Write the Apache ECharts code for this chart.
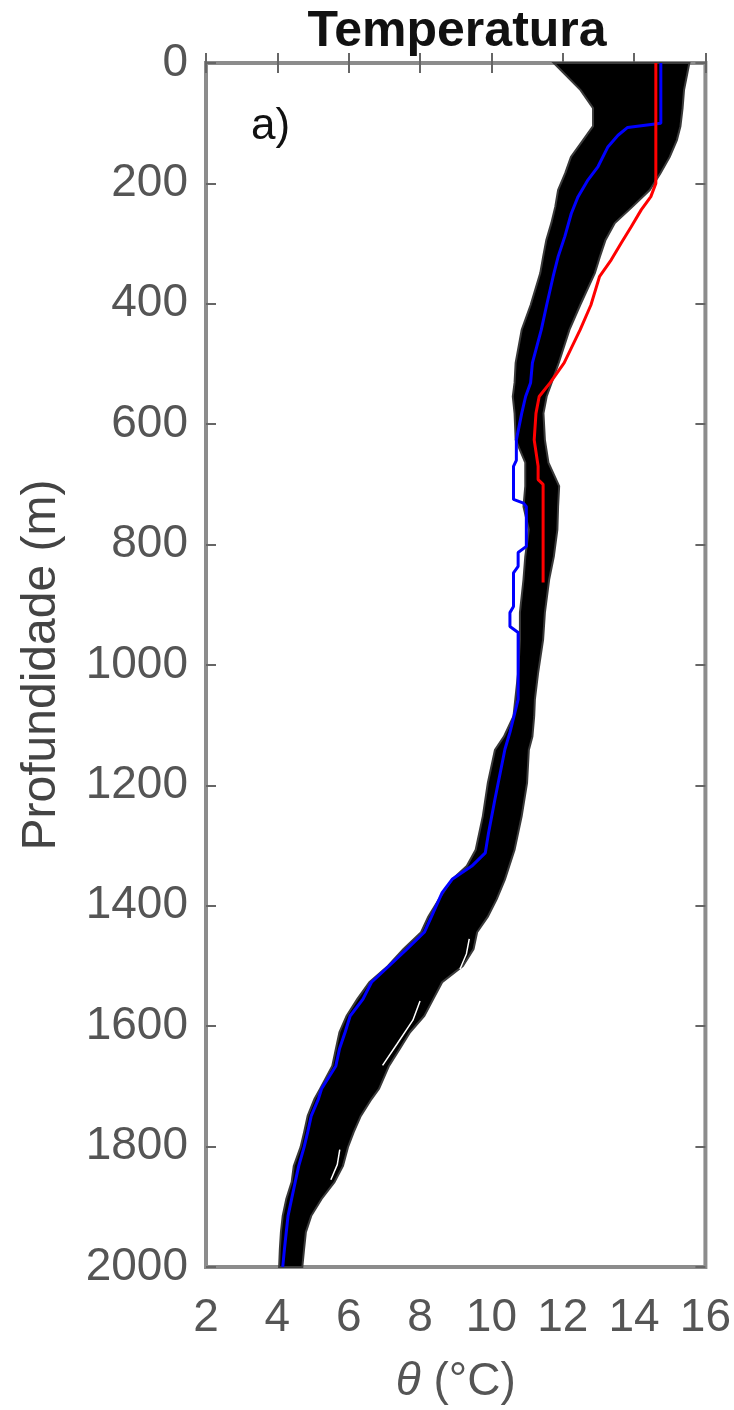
<!DOCTYPE html>
<html>
<head>
<meta charset="utf-8">
<script src="https://cdn.jsdelivr.net/npm/echarts@6/dist/echarts.min.js"></script>
<style>
  html, body { margin: 0; padding: 0; background: #fff; }
  #chartBox { width: 734px; height: 1410px; }
</style>
</head>
<body>
<div id="chartBox"></div>
<script>
// profundidade (m) dos bordos da nuvem de perfis pretos
var bandDepth = [0, 15, 45, 75, 105, 128, 156, 183, 211, 239, 266, 294, 322, 349, 402, 443, 498, 531, 554, 582,
  626, 664, 703, 737, 775, 820, 858, 913, 958, 1013, 1057, 1085, 1119, 1141, 1196, 1251, 1307, 1334, 1356, 1389,
  1418, 1444, 1472, 1500, 1527, 1555, 1583, 1610, 1638, 1666, 1704, 1721, 1749, 1776, 1801, 1832, 1859, 1887,
  1915, 1942, 1970, 2000]
var bandLeft = [11.75, 12.0, 12.5, 12.85, 12.85, 12.57, 12.23, 12.07, 11.87, 11.79, 11.68, 11.54, 11.45, 11.37,
  11.1, 10.85, 10.68, 10.65, 10.6, 10.65, 10.68, 10.95, 10.95, 10.9, 11.05, 10.95, 10.9, 10.8, 10.8, 10.75,
  10.67, 10.62, 10.35, 10.1, 9.9, 9.76, 9.56, 9.31, 8.9, 8.53, 8.23, 8.03, 7.53, 7.1, 6.58, 6.24, 5.94, 5.74,
  5.64, 5.54, 5.2, 5.04, 4.85, 4.75, 4.65, 4.46, 4.4, 4.25, 4.15, 4.1, 4.07, 4.05]
var bandRight = [15.55, 15.5, 15.4, 15.36, 15.3, 15.2, 15.0, 14.74, 14.44, 13.95, 13.46, 13.2, 13.04, 12.9,
  12.49, 12.19, 11.89, 11.69, 11.55, 11.46, 11.5, 11.6, 11.9, 11.87, 11.85, 11.75, 11.62, 11.5, 11.45, 11.31,
  11.22, 11.2, 11.15, 11.05, 11.0, 10.85, 10.65, 10.5, 10.38, 10.15, 9.9, 9.6, 9.5, 9.2, 8.62, 8.37, 8.12,
  7.72, 7.43, 7.13, 6.85, 6.64, 6.34, 6.14, 5.98, 5.84, 5.6, 5.24, 4.95, 4.8, 4.75, 4.7]

// perfil azul
var blueDepth = [0, 100, 107, 120, 139, 172, 194, 222, 250, 288, 322, 355, 402, 443, 498, 531, 554, 582, 626, 660,
  670, 725, 731, 737, 803, 813, 836, 847, 903, 913, 936, 946, 1013, 1057, 1112, 1140, 1223, 1279, 1312, 1334,
  1356, 1378, 1418, 1444, 1472, 1500, 1527, 1555, 1583, 1610, 1638, 1666, 1704, 1721, 1749, 1776, 1801, 1832,
  1859, 1887, 1915, 1942, 1970, 2000]
var blueTemp = [14.75, 14.75, 13.82, 13.55, 13.27, 12.99, 12.71, 12.43, 12.24, 12.06, 11.87, 11.73, 11.55, 11.4,
  11.15, 11.1, 10.96, 10.85, 10.7, 10.7, 10.62, 10.62, 10.9, 10.98, 10.98, 10.75, 10.75, 10.62, 10.62, 10.52,
  10.52, 10.75, 10.75, 10.75, 10.52, 10.38, 10.1, 9.92, 9.83, 9.45, 8.9, 8.62, 8.32, 8.12, 7.63, 7.13, 6.64,
  6.4, 6.04, 5.9, 5.74, 5.64, 5.24, 5.15, 4.95, 4.85, 4.75, 4.6, 4.5, 4.4, 4.3, 4.25, 4.2, 4.15]

// perfil vermelho
var redDepth = [0, 200, 222, 244, 272, 299, 327, 355, 402, 443, 498, 531, 554, 582, 626, 670, 692, 700, 863]
var redTemp = [14.61, 14.61, 14.47, 14.2, 13.92, 13.64, 13.36, 13.03, 12.79, 12.49, 12.04, 11.65, 11.34, 11.25,
  11.2, 11.31, 11.31, 11.45, 11.45]

// buracos brancos dentro da nuvem
var holes = [
  [[9.38, 1455], [9.3, 1480], [9.12, 1505]],
  [[8.0, 1558], [7.8, 1590], [7.35, 1630], [6.95, 1665]],
  [[5.75, 1805], [5.68, 1830], [5.5, 1855]]
]

var xTicks = [2, 16, 2]
var yTicks = [0, 2000, 200]

var font = "'Liberation Sans', Arial, sans-serif"

function pairs (xs, ys) {
  return xs.map(function (x, i) { return [x, ys[i]] })
}

var myChart = echarts.init(document.getElementById('chartBox'))

var tickStyle = { show: true, inside: true, length: 10, lineStyle: { color: '#666', width: 2 } }

var series = [
  {
    type: 'custom',
    z: 1,
    xAxisIndex: 0,
    yAxisIndex: 0,
    data: [[bandLeft[0], bandDepth[0]]],
    renderItem: function (params, api) {
      var pts = []
      for (var i = 0; i < bandDepth.length; i++) pts.push(api.coord([bandLeft[i], bandDepth[i]]))
      for (var j = bandDepth.length - 1; j >= 0; j--) pts.push(api.coord([bandRight[j], bandDepth[j]]))
      return {
        type: 'polygon',
        shape: { points: pts },
        style: { fill: '#000', stroke: '#3a3a3a', lineWidth: 2 }
      }
    }
  }
]
holes.forEach(function (h) {
  series.push({
    type: 'line', z: 2, data: h, showSymbol: false, silent: true,
    lineStyle: { color: '#fff', width: 1.5 }
  })
})
series.push({
  type: 'line', z: 3, data: pairs(blueTemp, blueDepth), showSymbol: false,
  lineStyle: { color: '#0000ff', width: 3 }
})
series.push({
  type: 'line', z: 4, data: pairs(redTemp, redDepth), showSymbol: false,
  lineStyle: { color: '#ff0000', width: 3 }
})

function plain (v) { return String(v) }

myChart.setOption({
  animation: false,
  backgroundColor: '#fff',
  grid: {
    left: 206, right: 26, top: 63, bottom: 142,
    show: true, borderColor: '#8c8c8c', borderWidth: 4, backgroundColor: 'transparent'
  },
  graphic: [
    {
      type: 'text', x: 457, y: 32, z: 10,
      style: { text: 'Temperatura', font: 'bold 50px ' + font, fill: '#111', textAlign: 'center', textVerticalAlign: 'middle' }
    },
    {
      type: 'text', x: 251, y: 127, z: 10,
      style: { text: 'a)', font: '44px ' + font, fill: '#111', textAlign: 'left', textVerticalAlign: 'middle' }
    }
  ],
  xAxis: [
    {
      type: 'value', position: 'bottom', min: xTicks[0], max: xTicks[1], interval: xTicks[2],
      axisLine: { show: false }, splitLine: { show: false }, axisTick: tickStyle,
      axisLabel: { color: '#555', fontSize: 46, fontFamily: font, margin: 28, formatter: plain },
      name: '{i|θ} (°C)', nameLocation: 'middle', nameGap: 92,
      nameTextStyle: {
        color: '#555', fontSize: 46, fontFamily: font,
        rich: { i: { fontStyle: 'italic', color: '#555', fontSize: 46, fontFamily: font } }
      }
    },
    {
      type: 'value', position: 'top', min: xTicks[0], max: xTicks[1], interval: xTicks[2],
      axisLine: { show: false }, splitLine: { show: false }, axisTick: tickStyle,
      axisLabel: { show: false }
    }
  ],
  yAxis: [
    {
      type: 'value', position: 'left', inverse: true, min: yTicks[0], max: yTicks[1], interval: yTicks[2],
      axisLine: { show: false }, splitLine: { show: false }, axisTick: tickStyle,
      axisLabel: { color: '#555', fontSize: 46, fontFamily: font, margin: 18, formatter: plain },
      name: 'Profundidade (m)', nameLocation: 'middle', nameRotate: 90, nameGap: 140,
      nameTextStyle: { color: '#444', fontSize: 48, fontFamily: font }
    },
    {
      type: 'value', position: 'right', inverse: true, min: yTicks[0], max: yTicks[1], interval: yTicks[2],
      axisLine: { show: false }, splitLine: { show: false }, axisTick: tickStyle,
      axisLabel: { show: false }
    }
  ],
  series: series
})
</script>
</body>
</html>
